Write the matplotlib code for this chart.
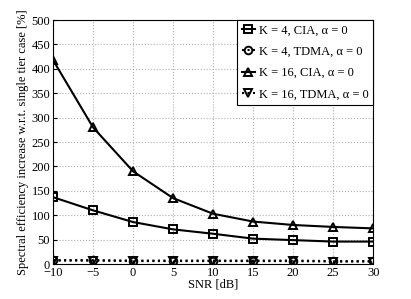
import matplotlib
matplotlib.use("Agg")
import matplotlib.pyplot as plt

snr = [-10, -5, 0, 5, 10, 15, 20, 25, 30]
k4_cia = [137, 110, 86, 71, 62, 52, 49, 46, 46]
k4_tdma = [8, 8, 7, 7, 7, 7, 7, 6, 6]
k16_cia = [418, 280, 190, 135, 103, 87, 80, 76, 73]
k16_tdma = [7, 7, 6, 6, 6, 6, 6, 5, 5]

plt.rcParams['font.family'] = 'Liberation Serif'
plt.rcParams['font.size'] = 9

fig = plt.figure(figsize=(4.11, 2.99), dpi=100)
ax = fig.add_axes([0.129, 0.117, 0.779, 0.816])

mk = dict(color='k', markerfacecolor='none', markeredgecolor='k', markersize=5.5, markeredgewidth=1.4)
ax.plot(snr, k4_cia, '-s', lw=1.5, label='K = 4, CIA, α = 0', **mk)
ax.plot(snr, k4_tdma, ':o', lw=1.5, label='K = 4, TDMA, α = 0', **mk)
ax.plot(snr, k16_cia, '-^', lw=1.5, label='K = 16, CIA, α = 0', **mk)
ax.plot(snr, k16_tdma, ':v', lw=1.5, label='K = 16, TDMA, α = 0', **mk)

ax.set_xlim(-10, 30)
ax.set_ylim(0, 500)
ax.set_xticks(snr)
ax.set_yticks(range(0, 501, 50))
ax.grid(True, linestyle=':', color='#b0b0b0', lw=0.8)
ax.tick_params(direction='in', length=3, pad=2)
ax.set_xlabel('SNR [dB]', labelpad=0)
ax.set_ylabel('Spectral efficiency increase w.r.t. single tier case [%]', labelpad=2)

leg = ax.legend(loc='upper right', fancybox=False, framealpha=1, edgecolor='k',
                borderaxespad=0, handlelength=1.1, handletextpad=0.3,
                borderpad=0.35, labelspacing=0.75, fontsize=9)
leg.get_frame().set_linewidth(0.8)

fig.savefig('out.png', dpi=100)
